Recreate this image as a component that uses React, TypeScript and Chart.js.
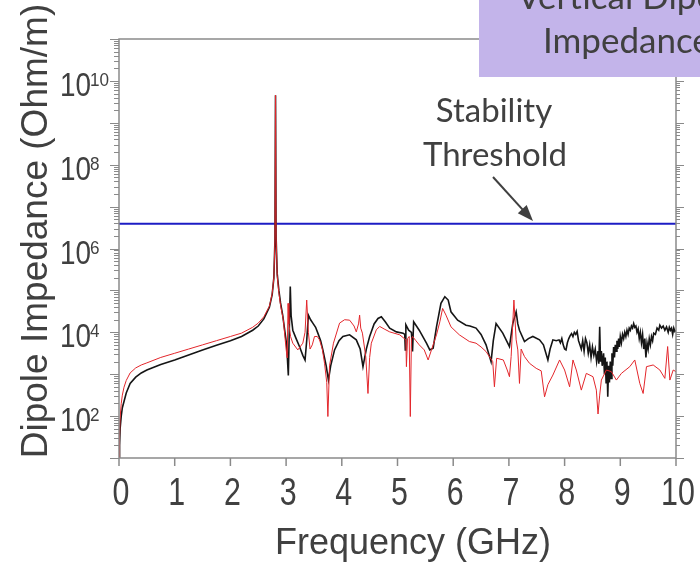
import React, { useEffect, useRef } from "react";
import { Chart, registerables } from "chart.js";

Chart.register(...registerables);

// Frequency (GHz) and log10 of dipole impedance (Ohm/m)
const blackFreq = [0, 0.01, 0.02, 0.04, 0.06, 0.09, 0.13, 0.2, 0.3, 0.4, 0.5, 0.75, 1.0, 1.25, 1.5, 1.75, 2.0, 2.2, 2.4, 2.5, 2.6, 2.7, 2.75, 2.78, 2.8, 2.81, 2.82, 2.84, 2.87, 2.9, 2.94, 2.98, 3.01, 3.04, 3.055, 3.075, 3.09, 3.12, 3.18, 3.24, 3.3, 3.34, 3.37, 3.4, 3.44, 3.48, 3.53, 3.57, 3.62, 3.66, 3.72, 3.76, 3.8, 3.87, 3.95, 4.02, 4.14, 4.26, 4.33, 4.38, 4.44, 4.5, 4.58, 4.65, 4.71, 4.78, 4.86, 4.98, 5.1, 5.13, 5.14, 5.15, 5.2, 5.25, 5.27, 5.29, 5.39, 5.52, 5.58, 5.64, 5.7, 5.78, 5.85, 5.91, 5.96, 6.08, 6.23, 6.3, 6.41, 6.5, 6.59, 6.68, 6.72, 6.77, 6.89, 7.01, 7.07, 7.13, 7.16, 7.19, 7.28, 7.35, 7.43, 7.55, 7.62, 7.7, 7.74, 7.79, 7.85,
  7.9, 7.925, 7.95, 7.975, 8.0, 8.025, 8.05, 8.075, 8.1, 8.125, 8.15, 8.175, 8.2, 8.225, 8.25, 8.275, 8.3, 8.325, 8.35, 8.375, 8.4, 8.425, 8.45, 8.475, 8.5, 8.525, 8.55, 8.575, 8.6, 8.615, 8.63, 8.645, 8.66, 8.675, 8.7, 8.715, 8.73, 8.745, 8.76, 8.775, 8.79, 8.805, 8.82, 8.835, 8.85, 8.865, 8.88, 8.895, 8.91, 8.925, 8.94, 8.955, 8.97, 8.985, 9.0, 9.02, 9.04, 9.06, 9.08, 9.1, 9.12, 9.14, 9.16, 9.18, 9.2, 9.22, 9.24, 9.26, 9.28, 9.3, 9.32, 9.34, 9.36, 9.38, 9.4, 9.42, 9.44, 9.46, 9.48, 9.5, 9.52, 9.54, 9.56, 9.58, 9.6, 9.63, 9.66, 9.69, 9.71, 9.74, 9.77, 9.8, 9.83, 9.86, 9.88, 9.9, 9.92, 9.94, 9.96, 9.98, 10.0];
const blackLogZ = [0.5, 1.3, 1.7, 2.0, 2.2, 2.35, 2.55, 2.78, 2.93, 3.03, 3.1, 3.23, 3.34, 3.46, 3.58, 3.69, 3.8, 3.9, 4.05, 4.15, 4.32, 4.6, 4.9, 5.3, 6.2, 9.66, 6.3, 5.4, 5.0, 4.7, 4.4, 4.0, 3.7, 2.97, 3.9, 5.09, 4.4, 4.05, 3.85, 3.66, 3.45, 3.34, 3.8, 4.41, 4.3, 4.22, 4.12, 3.98, 3.8, 3.58, 3.2, 2.86, 3.2, 3.58, 3.8, 3.9, 3.94, 3.82, 3.6, 3.18, 3.6, 3.9, 4.2, 4.33, 4.37, 4.25, 4.1, 4.01, 3.98, 3.95, 3.58, 4.18, 4.05, 4.0, 3.54, 4.25, 4.05, 3.74, 3.58, 3.62, 4.13, 4.69, 4.85, 4.77, 4.49, 4.29, 4.17, 4.15, 4.1, 3.95, 3.7, 3.3, 3.8, 4.21, 3.98, 3.66, 4.21, 4.49, 4.2, 4.05, 3.78, 3.85, 3.9, 3.82, 3.7, 3.34, 3.6, 3.82, 3.8,
  3.82, 3.75, 3.85, 3.7, 3.6, 3.58, 3.75, 3.85, 3.92, 3.97, 3.9, 4.0, 3.95, 4.02, 3.8, 3.7, 3.6, 3.8, 3.55, 3.85, 3.75, 3.5, 3.7, 3.4, 3.65, 3.45, 3.6, 3.3, 3.55, 3.25, 4.13, 3.3, 3.55, 3.2, 3.5, 3.0, 3.4, 2.8, 3.3, 2.46, 3.2, 2.8, 3.3, 2.9, 3.5, 3.2, 3.65, 3.4, 3.7, 3.55, 3.8, 3.6, 3.85, 3.65, 3.9, 3.75, 3.95, 3.85, 4.0, 3.9, 4.05, 3.95, 4.1, 4.05, 4.15, 4.1, 4.21, 4.12, 4.15, 4.0, 4.08, 3.85, 4.0, 3.75, 3.95, 3.6, 3.85, 3.4, 3.75, 3.6, 3.85, 3.7, 3.9, 3.8, 3.98, 3.95, 4.1, 4.05, 4.17, 4.1, 4.15, 4.05, 4.13, 4.0, 4.12, 4.05, 4.1, 3.95, 4.1, 4.02, 4.05];

const redFreq = [0, 0.01, 0.02, 0.04, 0.06, 0.09, 0.13, 0.2, 0.3, 0.4, 0.5, 0.75, 1.0, 1.25, 1.5, 1.75, 2.0, 2.2, 2.4, 2.5, 2.6, 2.7, 2.75, 2.78, 2.8, 2.81, 2.82, 2.84, 2.87, 2.9, 2.95, 3.0, 3.02, 3.035, 3.05, 3.08, 3.12, 3.21, 3.3, 3.34, 3.37, 3.4, 3.43, 3.47, 3.51, 3.56, 3.6, 3.65, 3.69, 3.73, 3.75, 3.78, 3.85, 3.96, 4.05, 4.14, 4.22, 4.26, 4.3, 4.32, 4.34, 4.37, 4.43, 4.47, 4.5, 4.53, 4.62, 4.68, 4.76, 4.86, 5.04, 5.15, 5.16, 5.18, 5.21, 5.23, 5.25, 5.27, 5.33, 5.39, 5.48, 5.55, 5.61, 5.7, 5.76, 5.81, 5.87, 5.96, 6.11, 6.29, 6.41, 6.5, 6.59, 6.71, 6.74, 6.78, 6.9, 6.97, 7.01, 7.04, 7.09, 7.13, 7.16, 7.19, 7.22, 7.28, 7.37, 7.49, 7.58, 7.64, 7.7, 7.79, 7.91, 8.0, 8.09, 8.15, 8.21, 8.3, 8.39, 8.51, 8.57, 8.6, 8.63, 8.66, 8.75, 8.84, 8.93, 9.02, 9.17, 9.26, 9.35, 9.41, 9.47, 9.59, 9.71, 9.8, 9.85, 9.89, 9.95, 10.0];
const redLogZ = [0.4, 1.5, 1.95, 2.3, 2.5, 2.69, 2.85, 3.03, 3.15, 3.22, 3.27, 3.4, 3.5, 3.6, 3.7, 3.8, 3.9, 3.98, 4.12, 4.22, 4.37, 4.62, 4.92, 5.3, 6.2, 9.66, 6.3, 5.35, 4.95, 4.65, 4.3, 3.6, 3.39, 4.69, 4.2, 3.9, 3.74, 3.58, 3.74, 4.0, 4.77, 4.0, 3.6, 3.7, 3.9, 3.9, 3.82, 3.6, 3.26, 2.8, 1.99, 3.2, 3.74, 4.22, 4.3, 4.29, 4.15, 4.01, 4.2, 4.41, 4.1, 3.98, 3.42, 2.54, 3.4, 3.74, 4.06, 4.14, 4.08, 4.01, 3.94, 3.82, 3.18, 3.85, 3.9, 1.99, 3.85, 3.9, 3.8, 3.7, 3.58, 3.34, 3.58, 3.94, 4.25, 4.57, 4.41, 4.13, 3.94, 3.78, 3.74, 3.65, 3.54, 3.3, 2.7, 3.38, 3.34, 3.1, 2.94, 3.42, 4.77, 3.82, 3.58, 2.78, 3.6, 3.42, 3.26, 3.14, 3.08, 2.46, 2.75, 2.98, 3.34, 3.1, 2.7, 3.34, 3.1, 2.62, 3.02, 2.94, 2.62, 2.05, 2.5, 2.86, 3.1, 3.06, 2.86, 3.02, 3.18, 3.34, 2.78, 2.54, 3.18, 3.22, 3.1, 2.9, 3.66, 2.86, 3.1, 3.06];

const thresholdFreq = [0, 10];
const thresholdZ = [3.9e6, 3.9e6];

const xTickLabels = ["0", "1", "2", "3", "4", "5", "6", "7", "8", "9", "10"];
const yLabelExponents = [2, 4, 6, 8, 10];

const TEXT = "#404040";
const FRAME = "#8a8a8a";

const decoPlugin = {
  id: "deco",
  afterDraw(chart: any) {
    const { ctx, chartArea: a, scales } = chart;
    const xs = scales.x;
    const ys = scales.y;
    ctx.save();
    // frame
    ctx.strokeStyle = FRAME;
    ctx.lineWidth = 1.5;
    ctx.strokeRect(a.left, a.top, a.right - a.left, a.bottom - a.top);
    // y ticks (left and right, outward)
    ctx.lineWidth = 1;
    for (let e = 1; e <= 11; e++) {
      for (let m = 1; m <= 9; m++) {
        const v = m * Math.pow(10, e);
        if (v > 1e11) break;
        const py = Math.round(ys.getPixelForValue(v)) + 0.5;
        const len = m === 1 ? 9 : 5;
        ctx.beginPath();
        ctx.moveTo(a.left - len, py);
        ctx.lineTo(a.left, py);
        ctx.moveTo(a.right, py);
        ctx.lineTo(a.right + len - 1, py);
        ctx.stroke();
      }
    }
    // x ticks
    ctx.lineWidth = 1.5;
    for (let i = 0; i < xTickLabels.length; i++) {
      const px = xs.getPixelForValue(i);
      ctx.beginPath();
      ctx.moveTo(px, a.bottom);
      ctx.lineTo(px, a.bottom + 8);
      ctx.stroke();
    }
    // x tick labels
    ctx.fillStyle = TEXT;
    ctx.font = "38px 'Liberation Sans', Arial, sans-serif";
    ctx.textAlign = "center";
    ctx.textBaseline = "alphabetic";
    for (let i = 0; i < xTickLabels.length; i++) {
      const px = xs.getPixelForValue(i);
      ctx.save();
      ctx.translate(px + 2, a.bottom + 47);
      ctx.scale(0.8, 1);
      ctx.fillText(xTickLabels[i], 0, 0);
      ctx.restore();
    }
    // y tick labels 10^n
    for (const e of yLabelExponents) {
      const py = ys.getPixelForValue(Math.pow(10, e));
      ctx.save();
      ctx.translate(91, py + 15);
      ctx.scale(0.82, 1);
      ctx.font = "34px 'Liberation Sans', Arial, sans-serif";
      ctx.textAlign = "right";
      ctx.fillText("10", 0, 0);
      ctx.restore();
      ctx.save();
      ctx.translate(90, py + 5);
      ctx.scale(0.9, 1);
      ctx.font = "19px 'Liberation Sans', Arial, sans-serif";
      ctx.textAlign = "left";
      ctx.fillText(String(e), 0, 0);
      ctx.restore();
    }
    // axis titles
    ctx.font = "36px 'Liberation Sans', Arial, sans-serif";
    ctx.textAlign = "center";
    ctx.fillText("Frequency (GHz)", 413, 554);
    ctx.save();
    ctx.translate(47, 231);
    ctx.rotate(-Math.PI / 2);
    ctx.font = "37px 'Liberation Sans', Arial, sans-serif";
    ctx.fillText("Dipole Impedance (Ohm/m)", 0, 0);
    ctx.restore();
    // annotation
    ctx.font = "33px Lato, 'Open Sans', sans-serif";
    ctx.textAlign = "center";
    ctx.fillText("Stability", 494, 122);
    ctx.fillText("Threshold", 495, 166);
    // arrow
    const x0 = 493, y0 = 177, x1 = 533, y1 = 221;
    const ang = Math.atan2(y1 - y0, x1 - x0);
    ctx.strokeStyle = TEXT;
    ctx.lineWidth = 2;
    ctx.beginPath();
    ctx.moveTo(x0, y0);
    ctx.lineTo(x1 - 10 * Math.cos(ang), y1 - 10 * Math.sin(ang));
    ctx.stroke();
    ctx.beginPath();
    ctx.moveTo(x1, y1);
    ctx.lineTo(x1 - 16 * Math.cos(ang) + 6 * Math.sin(ang), y1 - 16 * Math.sin(ang) - 6 * Math.cos(ang));
    ctx.lineTo(x1 - 16 * Math.cos(ang) - 6 * Math.sin(ang), y1 - 16 * Math.sin(ang) + 6 * Math.cos(ang));
    ctx.closePath();
    ctx.fill();
    // title box
    ctx.fillStyle = "#c3b4ea";
    ctx.fillRect(479, 0, 221, 77);
    ctx.fillStyle = TEXT;
    ctx.font = "35px Lato, 'Open Sans', sans-serif";
    ctx.textAlign = "left";
    ctx.fillText("Vertical Dipole", 517, 9);
    ctx.fillText("Impedance", 543, 53);
    ctx.restore();
  },
};

export default function App() {
  const ref = useRef<HTMLCanvasElement | null>(null);
  useEffect(() => {
    if (!ref.current) return;
    const black = blackFreq.map((f, i) => ({ x: f, y: Math.pow(10, blackLogZ[i]) }));
    const red = redFreq.map((f, i) => ({ x: f, y: Math.pow(10, redLogZ[i]) }));
    const thr = thresholdFreq.map((f, i) => ({ x: f, y: thresholdZ[i] }));
    const chart = new Chart(ref.current, {
      type: "line",
      data: {
        datasets: [
          { label: "red", data: red, borderColor: "#e3262b", borderWidth: 1, pointRadius: 0, tension: 0 },
          { label: "black", data: black, borderColor: "#151515", borderWidth: 1.6, pointRadius: 0, tension: 0 },
          { label: "threshold", data: thr, borderColor: "#1c1cc4", borderWidth: 2, pointRadius: 0, tension: 0 },
        ],
      },
      options: {
        responsive: false,
        animation: false,
        layout: { padding: { left: 119, right: 24, top: 39, bottom: 104 } },
        plugins: { legend: { display: false }, tooltip: { enabled: false }, title: { display: false } },
        scales: {
          x: { type: "linear", min: 0, max: 10, display: false },
          y: { type: "logarithmic", min: 10, max: 1e11, display: false },
        },
      },
      plugins: [decoPlugin],
    });
    return () => chart.destroy();
  }, []);
  return (
    <div style={{ position: "fixed", left: 0, top: 0, width: 700, height: 562, background: "#fff" }}>
      <canvas ref={ref} width={700} height={562} style={{ width: 700, height: 562, display: "block" }} />
    </div>
  );
}
